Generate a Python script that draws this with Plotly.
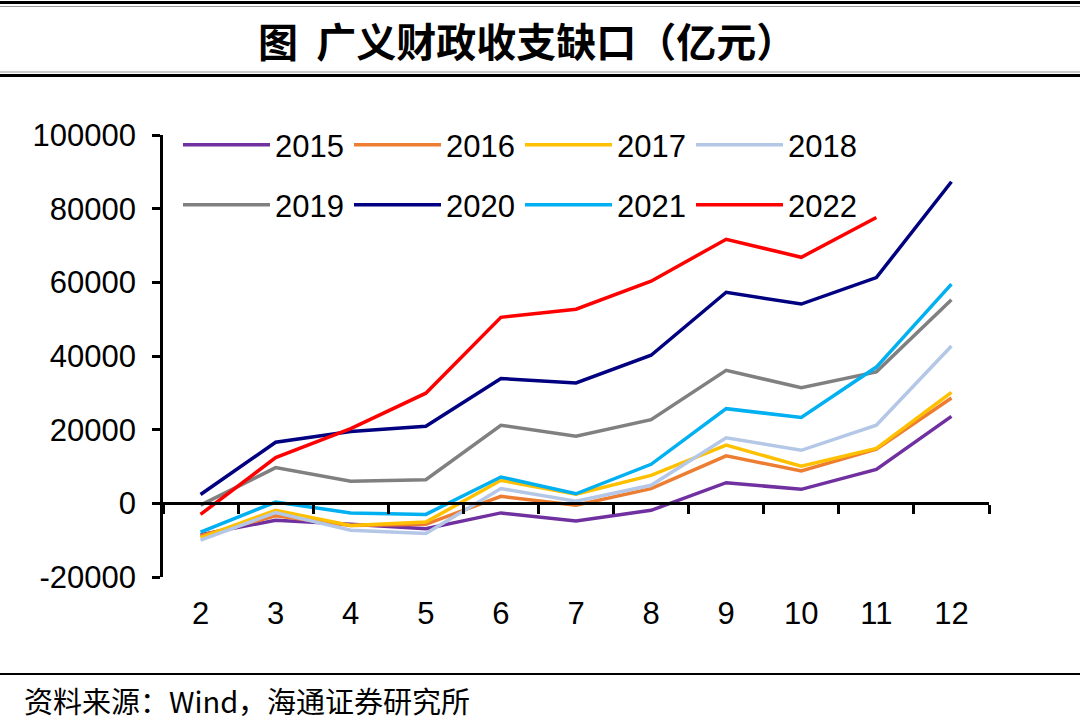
import plotly.graph_objects as go

months = [2, 3, 4, 5, 6, 7, 8, 9, 10, 11, 12]
month_labels = ["2", "3", "4", "5", "6", "7", "8", "9", "10", "11", "12"]

y2015 = [-8500, -4600, -5700, -6900, -2600, -4800, -1900, 5600, 3800, 9200, 23600]
y2016 = [-8800, -3400, -6000, -5700, 1900, -500, 4000, 12900, 8800, 14700, 28600]
y2017 = [-9300, -1900, -6000, -5100, 6250, 2500, 7600, 15800, 10100, 14900, 30100]
y2018 = [-10000, -2500, -7300, -8200, 4000, 600, 4900, 17800, 14400, 21200, 42700]
y2019 = [-500, 9700, 5980, 6400, 21200, 18200, 22700, 36100, 31400, 35700, 55300]
y2020 = [2400, 16600, 19500, 20900, 33900, 32700, 40200, 57300, 54100, 61300, 87300]
y2021 = [-7800, 350, -2600, -3000, 7150, 2600, 10600, 25700, 23300, 37000, 59500]
y2022 = [-3000, 12400, 20300, 29900, 50500, 52700, 60300, 71700, 66800, 77600, None]

series = [
    ("2015", y2015, "#7030A0", "legend"),
    ("2016", y2016, "#ED7D31", "legend"),
    ("2017", y2017, "#FFC000", "legend"),
    ("2018", y2018, "#B4C7E7", "legend"),
    ("2019", y2019, "#808080", "legend2"),
    ("2020", y2020, "#000080", "legend2"),
    ("2021", y2021, "#00B0F0", "legend2"),
    ("2022", y2022, "#FF0000", "legend2"),
]

y_ticks = [-20000, 0, 20000, 40000, 60000, 80000, 100000]
y_ticktext = ["-20000", "0", "20000", "40000", "60000", "80000", "100000"]

title_text = "图  广义财政收支缺口（亿元）"
source_text = "资料来源：Wind，海通证券研究所"

W, H = 1080, 722
L, R, T, B = 163, 91, 135, 145
pw, ph = W - L - R, H - T - B


def px_x(px):
    return (px - L) / pw


def px_y(py):
    return (H - B - py) / ph


fig = go.Figure()
for name, vals, color, leg in series:
    fig.add_trace(go.Scatter(x=months, y=vals, name=name, mode="lines", legend=leg,
                             line=dict(color=color, width=3.5)))

# helper trace for the zero-crossing category axis
fig.add_trace(go.Scatter(x=months, y=[None] * len(months), xaxis="x2",
                         showlegend=False, hoverinfo="skip"))

shapes = [
    dict(type="line", xref="paper", yref="paper", x0=px_x(0), x1=px_x(W),
         y0=px_y(2.5), y1=px_y(2.5), line=dict(color="#000000", width=3)),
    dict(type="line", xref="paper", yref="paper", x0=px_x(0), x1=px_x(W),
         y0=px_y(6.5), y1=px_y(6.5), line=dict(color="#999999", width=1)),
    dict(type="line", xref="paper", yref="paper", x0=px_x(0), x1=px_x(W),
         y0=px_y(72), y1=px_y(72), line=dict(color="#999999", width=1)),
    dict(type="line", xref="paper", yref="paper", x0=px_x(0), x1=px_x(W),
         y0=px_y(75.5), y1=px_y(75.5), line=dict(color="#000000", width=3)),
    dict(type="line", xref="paper", yref="paper", x0=px_x(0), x1=px_x(W),
         y0=px_y(674), y1=px_y(674), line=dict(color="#000000", width=2)),
]

annotations = [
    dict(text="<b>" + title_text + "</b>", xref="paper", yref="paper", x=px_x(527), y=px_y(40),
         xanchor="center", yanchor="middle", showarrow=False,
         font=dict(family="Noto Sans CJK SC", size=40, color="#000000")),
    dict(text=source_text, xref="paper", yref="paper", x=px_x(22), y=px_y(700),
         xanchor="left", yanchor="middle", showarrow=False,
         font=dict(family="Noto Sans CJK SC", size=29, color="#000000")),
]

legend_common = dict(orientation="h", xanchor="left", yanchor="middle",
                     font=dict(size=31, family="Liberation Sans, Arial", color="#000000"),
                     entrywidth=69, entrywidthmode="pixels", itemwidth=87,
                     bgcolor="rgba(0,0,0,0)", traceorder="normal")

fig.update_layout(
    width=W, height=H,
    margin=dict(l=L, r=R, t=T, b=B, pad=0),
    paper_bgcolor="white", plot_bgcolor="white",
    font=dict(family="Liberation Sans, Arial", color="#000000"),
    showlegend=True,
    legend=dict(x=px_x(178), y=px_y(145), **legend_common),
    legend2=dict(x=px_x(178), y=px_y(205), **legend_common),
    xaxis=dict(range=[1.5, 12.5], tickvals=months, ticktext=month_labels,
               showline=False, ticks="", showgrid=False, zeroline=False,
               tickfont=dict(size=31), ticklabelstandoff=15),
    xaxis2=dict(range=[1.5, 12.5], overlaying="x", anchor="free",
                position=20000 / 120000, side="bottom",
                tickvals=[m - 0.5 for m in months] + [12.5], showticklabels=False,
                showline=True, linecolor="#000000", linewidth=2.5,
                ticks="outside", ticklen=9, tickwidth=2.5, tickcolor="#000000",
                showgrid=False, zeroline=False),
    yaxis=dict(range=[-20000, 100000], tickvals=y_ticks, ticktext=y_ticktext,
               showline=True, linecolor="#000000", linewidth=2.5,
               ticks="outside", ticklen=8, tickwidth=2.5, tickcolor="#000000",
               showgrid=False, zeroline=False, tickfont=dict(size=31),
               ticklabelstandoff=10),
    shapes=shapes,
    annotations=annotations,
)

fig.write_html("out.html", config={"displayModeBar": False},
               post_script="document.body.style.margin='0';document.body.style.overflow='hidden';")
